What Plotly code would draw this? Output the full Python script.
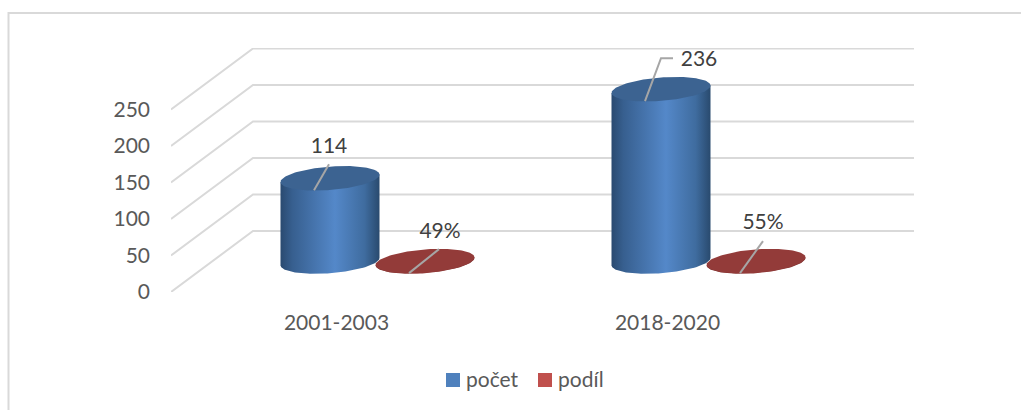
"""Pseudo-3D cylinder chart: počet and podíl for two periods."""
import numpy as np
import plotly.graph_objects as go

CATEGORIES = ["2001-2003", "2018-2020"]
POCET = [114, 236]
PODIL = [0.49, 0.55]
PODIL_LABELS = ["49%", "55%"]
Y_TICKS = [0, 50, 100, 150, 200, 250]
LEGEND_NAMES = ["počet", "podíl"]

# plot box in page pixels
LEFT, RIGHT, TOP, BOTTOM = 171, 914, 48, 292
W, H = 1021, 410
PX_PER_CAT = 331.0
PX_PER_VAL = 0.73

GRID = "#d9d9d9"
LEADER = "#a6a6a6"
BLUE_SIDE = [[0, "#2a4a70"], [0.12, "#375f8f"], [0.55, "#5488c9"], [0.85, "#3f6c9f"], [1, "#294a6e"]]
RED_SIDE = [[0, "#7a3230"], [0.5, "#933b39"], [1, "#7a3230"]]
FONT = "Lato"


def dx(px):
    return px / PX_PER_CAT


def dy(px):
    return px / PX_PER_VAL


def paper_x(px):
    return (px - LEFT) / (RIGHT - LEFT)


def paper_y(px):
    return (BOTTOM - px) / (BOTTOM - TOP)


# oblique depth of the floor: full depth for the wall, half for the columns
DEPTH_X, DEPTH_Y = dx(82), dy(61)
X_MIN = -0.5
X_MAX = X_MIN + dx(RIGHT - LEFT)
Y_MAX = dy(BOTTOM - TOP)
GROUP_OFFSET = dx(47.5)
RX, RY, SKEW = dx(49.5), dy(11.7), dy(3.7)


def cylinder(fig, cat, side, value, gradient, top_color):
    cx = cat + side * GROUP_OFFSET + DEPTH_X / 2
    base = DEPTH_Y / 2
    t = np.linspace(0, 2 * np.pi, 121)
    ex = RX * np.cos(t)
    ey = RY * np.sin(t) + SKEW * np.cos(t)
    lower = np.linspace(np.pi, 2 * np.pi, 61)
    lx = cx + RX * np.cos(lower)
    ly = base + RY * np.sin(lower) + SKEW * np.cos(lower)
    ux = cx + RX * np.cos(lower[::-1])
    uy = base + value + SKEW * np.cos(lower[::-1])
    fig.add_trace(go.Scatter(
        x=np.r_[lx, ux, lx[0]], y=np.r_[ly, uy, ly[0]],
        mode="lines", line=dict(width=0), fill="toself",
        fillgradient=dict(type="horizontal", colorscale=gradient),
        hoverinfo="skip", showlegend=False,
    ))
    fig.add_trace(go.Scatter(
        x=cx + ex, y=base + value + ey,
        mode="lines", line=dict(width=0), fill="toself", fillcolor=top_color,
        hoverinfo="skip", showlegend=False,
    ))
    return cx, base + value


def data_label(fig, cx, cy, text, leader, label):
    # leader and label are pixel offsets from the column's top centre
    xs = [cx + dx(p[0]) for p in leader]
    ys = [cy - dy(p[1]) for p in leader]
    fig.add_trace(go.Scatter(
        x=xs, y=ys, mode="lines", line=dict(color=LEADER, width=2),
        hoverinfo="skip", showlegend=False, cliponaxis=False,
    ))
    fig.add_trace(go.Scatter(
        x=[cx + dx(label[0])], y=[cy - dy(label[1])], mode="text", text=[text],
        textposition="middle center", textfont=dict(family=FONT, size=21, color="#404040"),
        hoverinfo="skip", showlegend=False, cliponaxis=False,
    ))


fig = go.Figure()

# walls: a diagonal on the side, a horizontal on the back for every tick
for v in Y_TICKS:
    fig.add_trace(go.Scatter(
        x=[X_MIN, X_MIN + DEPTH_X, X_MAX], y=[v, v + DEPTH_Y, v + DEPTH_Y],
        mode="lines", line=dict(color=GRID, width=2),
        hoverinfo="skip", showlegend=False, cliponaxis=False,
    ))

blue_tops = [cylinder(fig, i, -1, v, BLUE_SIDE, "#3c6391") for i, v in enumerate(POCET)]
red_tops = [cylinder(fig, i, 1, v, RED_SIDE, "#933b39") for i, v in enumerate(PODIL)]

data_label(fig, *blue_tops[0], str(POCET[0]), [(-16, 12), (-1, -14)], (-1, -31))
data_label(fig, *blue_tops[1], str(POCET[1]), [(-16, 12), (0, -31), (12, -31)], (38, -28))
data_label(fig, *red_tops[0], PODIL_LABELS[0], [(-16, 12), (14, -12)], (15, -28))
data_label(fig, *red_tops[1], PODIL_LABELS[1], [(-16, 12), (7, -20)], (7, -37))

# frame of the chart area: top and left edges only
frame = dict(
    type="path", xref="paper", yref="paper",
    path=f"M {paper_x(W + 5)},{paper_y(13)} L {paper_x(8.5)},{paper_y(13)} L {paper_x(8.5)},{paper_y(H + 5)}",
    line=dict(color=GRID, width=2), layer="below",
)

# legend row under the axis
shapes = [frame]
annotations = []
for name, color, swatch_px, text_px in zip(LEGEND_NAMES, ["#4f81bd", "#c0504d"], [446, 538], [464, 556]):
    shapes.append(dict(
        type="rect", xref="paper", yref="paper",
        x0=paper_x(swatch_px), x1=paper_x(swatch_px + 14), y0=paper_y(387), y1=paper_y(373),
        fillcolor=color, line=dict(width=0),
    ))
    annotations.append(dict(
        xref="paper", yref="paper", x=paper_x(text_px), y=paper_y(378),
        xanchor="left", yanchor="middle", text=name, showarrow=False,
        font=dict(family=FONT, size=21, color="#595959"),
    ))

fig.update_layout(
    width=W, height=H,
    margin=dict(l=LEFT, r=W - RIGHT, t=TOP, b=H - BOTTOM, pad=0),
    paper_bgcolor="white", plot_bgcolor="white",
    font=dict(family=FONT, size=21, color="#595959"),
    xaxis=dict(
        range=[X_MIN, X_MAX], tickvals=[0, 1], ticktext=CATEGORIES,
        showgrid=False, zeroline=False, showline=False, ticks="", ticklabelstandoff=16,
    ),
    yaxis=dict(
        range=[0, Y_MAX], tickvals=Y_TICKS,
        showgrid=False, zeroline=False, showline=False, ticks="", ticklabelstandoff=20,
    ),
    shapes=shapes,
    annotations=annotations,
)

fig.write_html(
    "out.html",
    config={"displayModeBar": False},
    post_script="document.body.style.margin='0';",
)
